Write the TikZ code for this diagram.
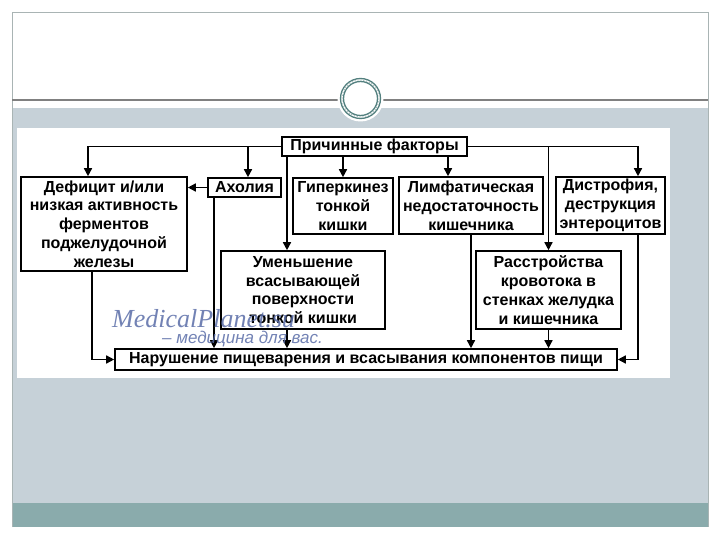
\documentclass[tikz,border=0pt]{standalone}
\usepackage{fontspec}
\setmainfont{Liberation Sans}
\newfontfamily\wmserif{Liberation Serif}
\usetikzlibrary{arrows.meta}
\definecolor{bandgrey}{HTML}{C6D1D8}
\definecolor{bandteal}{HTML}{8AABAC}
\definecolor{frameline}{HTML}{A9B4B4}
\definecolor{ringteal}{HTML}{53807F}
\definecolor{wmblue}{HTML}{5A6DA8}
\tikzset{
  box/.style={draw=black, line width=1.6pt, fill=white, align=center, inner sep=0pt,
    font=\fontsize{16}{18.8}\selectfont\bfseries},
  arr/.style={draw=black, line width=1.5pt, -{Triangle[length=8pt,width=8pt]}},
}
\begin{document}
\begin{tikzpicture}[x=1pt,y=-1pt]
\useasboundingbox (0,0) rectangle (720,540);
\fill[white] (0,0) rectangle (720,540);
% slide decoration
\fill[bandgrey] (12,108) rectangle (708,503);
\fill[bandteal] (12,503) rectangle (708,527);
\draw[frameline, line width=0.8pt] (12,527) -- (12,12) -- (708,12) -- (708,527);
\draw[gray, line width=1.2pt] (12,100) -- (708,100);
\fill[white] (360.5,98.5) circle[radius=23];
\draw[ringteal, line width=1.3pt] (360.5,98.5) circle[radius=20];
\draw[ringteal, line width=1.3pt] (360.5,98.5) circle[radius=17];
\draw[ringteal!70, line width=0.9pt, dotted] (360.5,98.5) circle[radius=18.5];
% image area
\fill[white] (17,128) rectangle (670,378);
% nodes
\node[box, minimum width=185pt, minimum height=19pt] (prich) at (374.5,146.5) {Причинные факторы};
\node[box, minimum width=166pt, minimum height=94pt] (def) at (104,224) {Дефицит и/или\\низкая активность\\ферментов\\поджелудочной\\железы};
\node[box, minimum width=73pt, minimum height=19pt] (axo) at (244.5,187.5) {Ахолия};
\node[box, minimum width=100pt, minimum height=56pt] (giper) at (343,206) {Гиперкинез\\тонкой\\кишки};
\node[box, minimum width=144pt, minimum height=57pt] (limf) at (471,205.5) {Лимфатическая\\недостаточность\\кишечника};
\node[box, minimum width=109pt, minimum height=57pt] (dist) at (610.5,205.5) {Дистрофия,\\деструкция\\энтероцитов};
\node[box, minimum width=164pt, minimum height=78pt] (umen) at (303,290) {Уменьшение\\всасывающей\\поверхности\\тонкой кишки};
\node[box, minimum width=145pt, minimum height=78pt] (rasst) at (548.5,290) {Расстройства\\кровотока в\\стенках желудка\\и кишечника};
\node[box, minimum width=502pt, minimum height=21pt] (nar) at (366,359.5) {Нарушение пищеварения и всасывания компонентов пищи};
% helper coordinates
\coordinate (defin) at ([xshift=-16pt]def.north);
\coordinate (axoin) at ([xshift=3.5pt]axo.north);
\coordinate (limfin) at ([xshift=-23pt]limf.north);
\coordinate (umenin) at ([xshift=-16pt]umen.north);
\coordinate (distin) at ([xshift=27.5pt]dist.north);
\coordinate (axoout) at ([xshift=-30.5pt]axo.south);
\coordinate (umenout) at ([xshift=-16pt]umen.south);
\coordinate (distout) at ([xshift=27.5pt]dist.south);
\coordinate (defout) at ([xshift=-12pt]def.south);
% connectors
\draw[arr] (prich.west) -| (defin);
\draw[arr] (prich.west -| axoin) -- (axoin);
\draw[arr] (prich.south -| giper.north) -- (giper.north);
\draw[arr] (prich.south -| limfin) -- (limfin);
\draw[arr] (prich.south -| umenin) -- (umenin);
\draw[arr] (prich.east) -| (distin);
\draw[arr] (prich.east -| rasst.north) -- (rasst.north);
\draw[arr] (axo.west) -- (axo.west -| def.east);
\draw[arr] (axoout) -- (axoout |- nar.north);
\draw[arr] (umenout) -- (umenout |- nar.north);
\draw[arr] (limf.south) -- (limf.south |- nar.north);
\draw[arr] (rasst.south) -- (rasst.south |- nar.north);
\draw[arr] (distout) |- (nar.east);
\draw[arr] (defout) |- (nar.west);
% watermark
\node[anchor=base west, text=wmblue, opacity=0.85, font=\wmserif\itshape\fontsize{26}{26}\selectfont, inner sep=0pt] (wm1) at (112,327) {MedicalPlanet.su};
\node[anchor=base west, text=wmblue, opacity=0.85, font=\itshape\fontsize{17}{17}\selectfont, inner sep=0pt] (wm2) at (162,343) {– медицина для вас.};
\end{tikzpicture}
\end{document}
